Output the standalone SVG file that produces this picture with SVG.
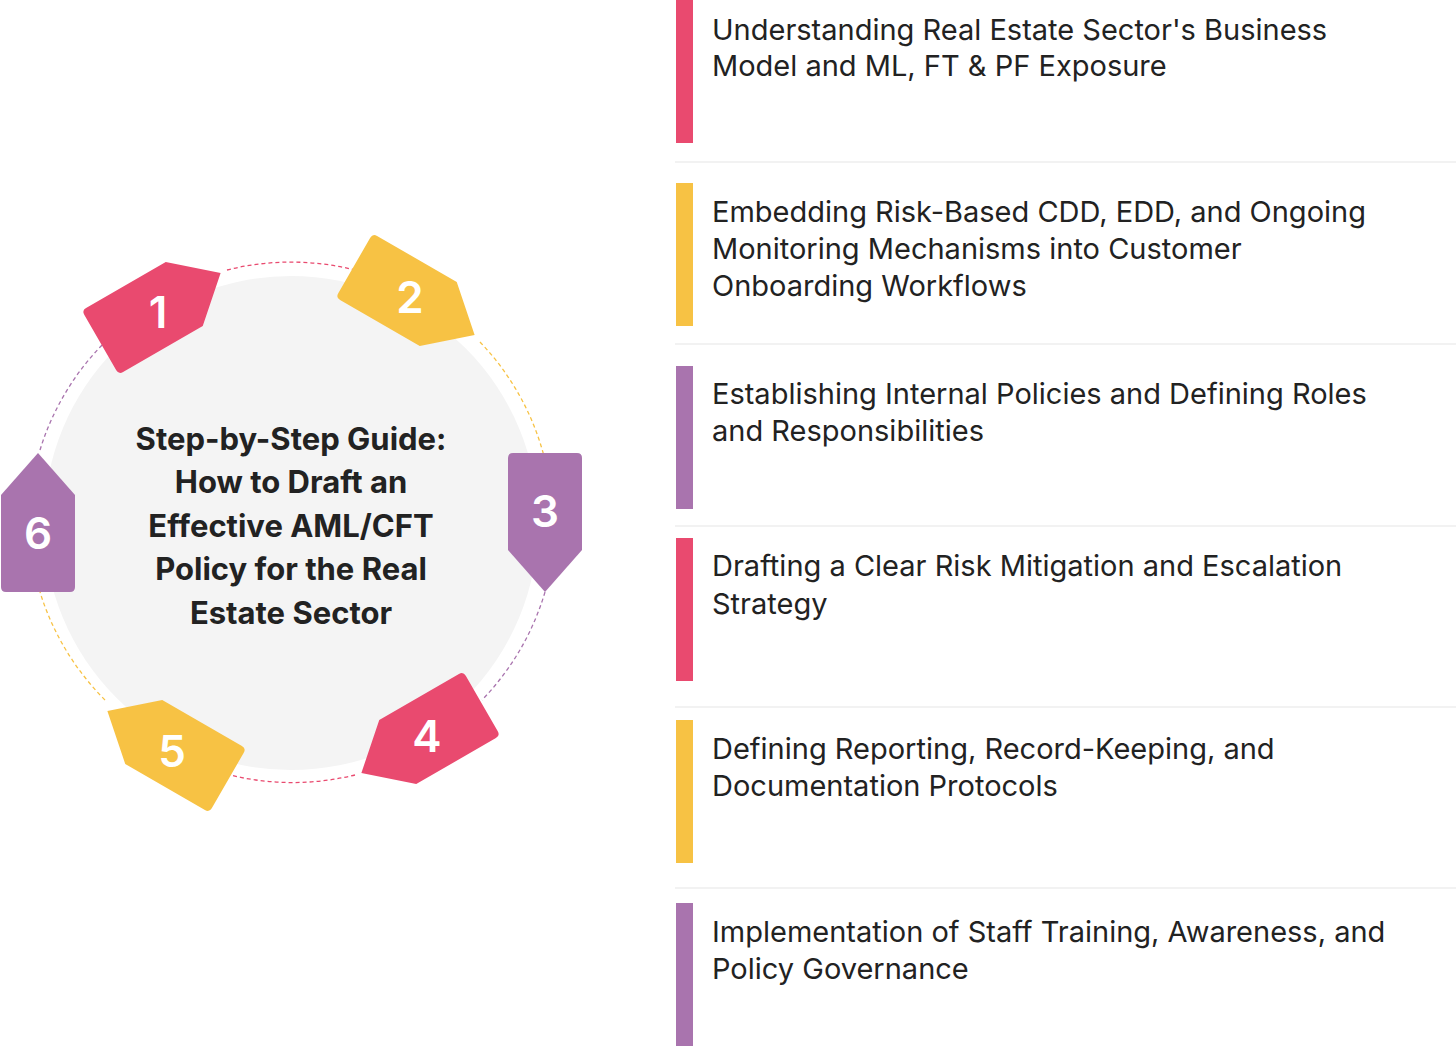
<svg xmlns="http://www.w3.org/2000/svg" width="1456" height="1046" viewBox="0 0 1456 1046">
<style>
.t{font-family:Inter,"Open Sans",sans-serif;font-size:29px;fill:#222}
.c{font-family:Inter,"Open Sans",sans-serif;font-size:31px;font-weight:700;fill:#222;text-anchor:middle}
.n{font-family:Inter,"Open Sans",sans-serif;font-size:44px;font-weight:600;fill:#fff;text-anchor:middle}
.sep{stroke:#eeeeee;stroke-width:1.5}
.pk{fill:#E94A6F}.yl{fill:#F7C244}.pu{fill:#A974AE}
</style>
<defs>
<path id="b" d="M -37 -64 Q -37 -69 -32 -69 H 32 Q 37 -69 37 -64 V 28 L 0 70 L -37 28 Z"/>
</defs>
<rect width="1456" height="1046" fill="#fff"/>
<g id="connectors" fill="none" stroke-width="1.3" stroke-dasharray="4 3">
<path d="M 227 270 A 262 262 0 0 1 355 270" stroke="#E94A6F"/>
<path d="M 480 342 A 262 262 0 0 1 545 460" stroke="#F7C244"/>
<path d="M 545 592 A 262 262 0 0 1 482 700" stroke="#A974AE"/>
<path d="M 355 775 A 262 262 0 0 1 230 775" stroke="#E94A6F"/>
<path d="M 105 700 A 262 262 0 0 1 40 592" stroke="#F7C244"/>
<path d="M 40 450 A 262 262 0 0 1 105 342" stroke="#A974AE"/>
</g>
<g id="center">
<circle cx="291" cy="523" r="247" fill="#f4f4f4"/>
<text class="c" x="291" y="450">Step-by-Step Guide:</text>
<text class="c" x="291" y="493">How to Draft an</text>
<text class="c" x="291" y="537">Effective AML/CFT</text>
<text class="c" x="291" y="580">Policy for the Real</text>
<text class="c" x="291" y="624">Estate Sector</text>
</g>
<g id="badge1"><use href="#b" class="pk" transform="translate(160,308) rotate(240)"/><text class="n" x="158" y="328">1</text></g>
<g id="badge2"><use href="#b" class="yl" transform="translate(414,300) rotate(300)"/><text class="n" x="410" y="313">2</text></g>
<g id="badge3"><use href="#b" class="pu" transform="translate(545,522)"/><text class="n" x="545" y="527">3</text></g>
<g id="badge4"><use href="#b" class="pk" transform="translate(422,738) rotate(60)"/><text class="n" x="427" y="752">4</text></g>
<g id="badge5"><use href="#b" class="yl" transform="translate(168,746) rotate(120)"/><text class="n" x="172" y="767">5</text></g>
<g id="badge6"><use href="#b" class="pu" transform="translate(38,523) rotate(180)"/><text class="n" x="38" y="549">6</text></g>
<g id="separators">
<line class="sep" x1="675" y1="162" x2="1456" y2="162"/>
<line class="sep" x1="675" y1="344" x2="1456" y2="344"/>
<line class="sep" x1="675" y1="526" x2="1456" y2="526"/>
<line class="sep" x1="675" y1="707" x2="1456" y2="707"/>
<line class="sep" x1="675" y1="888" x2="1456" y2="888"/>
</g>
<g id="step1"><rect class="pk" x="676" y="0" width="17" height="143"/>
<text class="t" x="712" y="40">Understanding Real Estate Sector's Business</text>
<text class="t" x="712" y="76">Model and ML, FT &amp; PF Exposure</text></g>
<g id="step2"><rect class="yl" x="676" y="183" width="17" height="143"/>
<text class="t" x="712" y="222">Embedding Risk-Based CDD, EDD, and Ongoing</text>
<text class="t" x="712" y="259">Monitoring Mechanisms into Customer</text>
<text class="t" x="712" y="296">Onboarding Workflows</text></g>
<g id="step3"><rect class="pu" x="676" y="366" width="17" height="143"/>
<text class="t" x="712" y="404">Establishing Internal Policies and Defining Roles</text>
<text class="t" x="712" y="441">and Responsibilities</text></g>
<g id="step4"><rect class="pk" x="676" y="538" width="17" height="143"/>
<text class="t" x="712" y="576">Drafting a Clear Risk Mitigation and Escalation</text>
<text class="t" x="712" y="614">Strategy</text></g>
<g id="step5"><rect class="yl" x="676" y="720" width="17" height="143"/>
<text class="t" x="712" y="759">Defining Reporting, Record-Keeping, and</text>
<text class="t" x="712" y="796">Documentation Protocols</text></g>
<g id="step6"><rect class="pu" x="676" y="903" width="17" height="143"/>
<text class="t" x="712" y="942">Implementation of Staff Training, Awareness, and</text>
<text class="t" x="712" y="979">Policy Governance</text></g>
</svg>
